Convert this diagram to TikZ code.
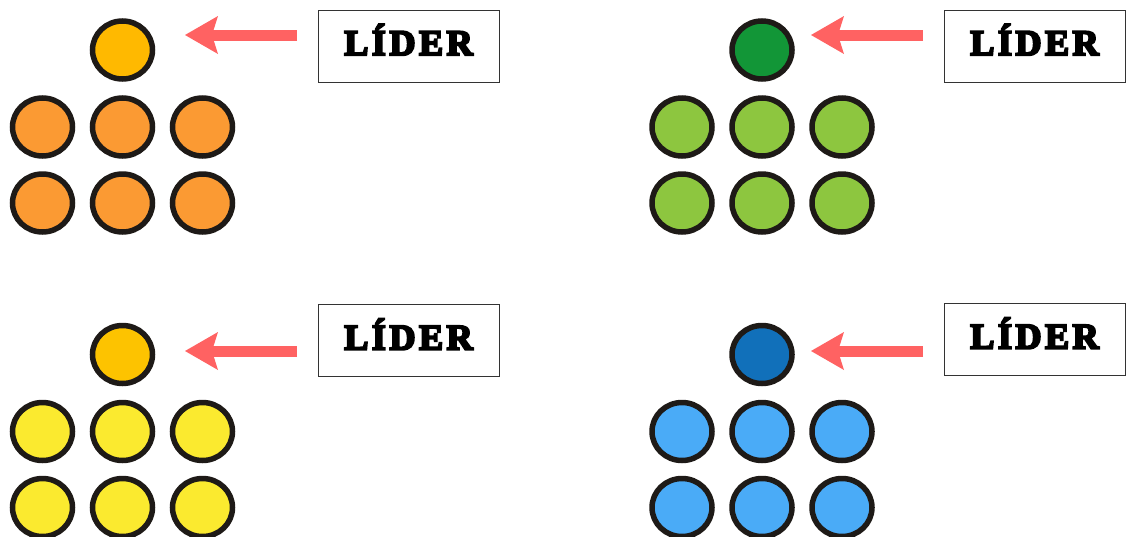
\documentclass[tikz,border=0pt]{standalone}
\usepackage{fontspec}
\usetikzlibrary{arrows.meta,shapes.geometric}
\newfontfamily\liderfont[FakeBold=6,LetterSpace=10]{Liberation Serif Bold}
\definecolor{ringc}{HTML}{1E1A17}
\definecolor{arrowc}{HTML}{FF6262}
\definecolor{boxc}{HTML}{333333}
\definecolor{otop}{HTML}{FFB900}
\definecolor{orow}{HTML}{FB9A33}
\definecolor{gtop}{HTML}{129637}
\definecolor{grow}{HTML}{8DC63F}
\definecolor{ytop}{HTML}{FDC300}
\definecolor{yrow}{HTML}{FBEA2F}
\definecolor{btop}{HTML}{1170BA}
\definecolor{brow}{HTML}{4AABF7}
\tikzset{
  dot/.style={ellipse, draw=ringc, line width=5.5pt, minimum width=60pt, minimum height=58pt, inner sep=0pt},
  lidbox/.style={draw=boxc, line width=1pt, minimum width=181pt, minimum height=72pt, inner sep=0pt,
    text height=23pt, text depth=0pt, font=\liderfont\fontsize{36}{36}\selectfont},
  leadarrow/.style={line width=11pt, arrowc, -{Stealth[length=33pt,width=38pt,inset=6pt,line width=0pt]}}
}
\begin{document}
\begin{tikzpicture}[x=1pt,y=-1pt]
\useasboundingbox (0,0) rectangle (1127,536);
% gid / x offset / y offset / top colour / row colour / box x / box y / arrow x offset / arrow y
\foreach \g/\dx/\dy/\tc/\rc/\bx/\by/\ax/\ay in {
  a/0/0/otop/orow/408.5/46/0/35,
  b/639.5/0/gtop/grow/1034.5/46/626/35,
  c/0/304.5/ytop/yrow/408.5/340.5/0/351,
  d/639.5/304.5/btop/brow/1034.5/339.5/626/351}{
  \node[dot, fill=\tc] (\g-top) at (122.5+\dx, 50+\dy) {};
  \foreach \r/\ry in {1/127, 2/203}{
    \foreach \c/\cx in {1/42.5, 2/122.5, 3/202.5}{
      \node[dot, fill=\rc] (\g-r\r c\c) at (\cx+\dx, \ry+\dy) {};
    }
  }
  \node[lidbox] (\g-box) at (\bx, \by) {\raisebox{2.5pt}{LÍDER}};
  \coordinate (\g-tail) at (297+\ax, \ay);
  \coordinate (\g-tip) at (185+\ax, \ay);
  \draw[leadarrow] (\g-tail) -- (\g-tip);
}
\end{tikzpicture}
\end{document}
